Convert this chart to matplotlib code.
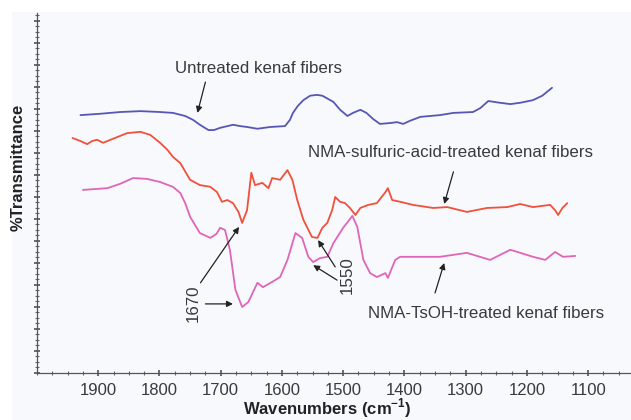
import matplotlib
matplotlib.use('Agg')
import matplotlib.pyplot as plt
from matplotlib.patches import Rectangle
from matplotlib.ticker import MultipleLocator, FixedLocator, NullFormatter

plt.rcParams['font.family'] = ['Liberation Sans', 'DejaVu Sans']
plt.rcParams['mathtext.fontset'] = 'custom'
plt.rcParams['mathtext.rm'] = 'Liberation Sans'
plt.rcParams['mathtext.bf'] = 'Liberation Sans:bold'

# FTIR spectra, values (arbitrary %T scale)
untreated_wn = [1929, 1897, 1864, 1831, 1799, 1778, 1758, 1745, 1734, 1720, 1711, 1701,
                1689, 1680, 1668, 1657, 1640, 1619, 1595, 1587, 1582, 1574, 1565, 1554,
                1543, 1534, 1525, 1516, 1505, 1493, 1484, 1472, 1462, 1451, 1440, 1423,
                1412, 1402, 1391, 1374, 1342, 1320, 1288, 1276, 1263, 1244, 1227, 1211,
                1190, 1175, 1159]
untreated_t = [58.6, 58.9, 59.3, 59.5, 59.3, 59.1, 58.4, 57.5, 56.4, 55.2, 55.2, 55.7,
               56.1, 56.4, 56.1, 55.9, 55.5, 55.9, 56.1, 57.5, 59.1, 60.7, 62.0, 63.0,
               63.2, 63.0, 62.3, 61.6, 59.8, 58.4, 59.1, 59.8, 59.1, 57.7, 56.6, 56.8,
               57.0, 56.6, 57.3, 58.2, 58.6, 59.1, 59.3, 60.2, 61.8, 61.4, 61.1, 61.4,
               62.0, 63.0, 64.8]

sulfuric_wn = [1942, 1929, 1918, 1910, 1902, 1892, 1880, 1869, 1853, 1831, 1815, 1799,
               1787, 1778, 1766, 1750, 1734, 1717, 1706, 1698, 1689, 1680, 1671, 1665,
               1657, 1650, 1644, 1632, 1622, 1616, 1603, 1591, 1583, 1575, 1565, 1551,
               1542, 1534, 1526, 1518, 1513, 1505, 1497, 1489, 1480, 1472, 1459, 1445,
               1431, 1427, 1420, 1407, 1386, 1353, 1330, 1298, 1265, 1232, 1211, 1190,
               1162, 1154, 1149, 1142, 1134]
sulfuric_t = [53.4, 52.7, 52.0, 52.7, 53.0, 52.3, 53.0, 53.6, 54.5, 54.8, 54.1, 52.3,
              50.7, 49.1, 47.7, 43.9, 42.7, 42.3, 41.1, 38.9, 39.3, 38.6, 36.6, 34.1,
              37.0, 45.5, 42.7, 43.2, 42.0, 44.3, 43.9, 46.1, 43.9, 39.3, 34.8, 30.9,
              30.7, 33.0, 34.1, 37.0, 40.0, 38.9, 38.6, 37.5, 35.9, 37.5, 38.2, 38.6,
              41.1, 42.0, 39.3, 38.9, 38.2, 37.5, 37.7, 36.6, 37.5, 37.7, 38.4, 37.7,
              38.2, 37.0, 35.9, 37.5, 38.6]

tsoh_wn = [1925, 1905, 1885, 1864, 1843, 1820, 1799, 1778, 1766, 1758, 1750, 1734,
           1717, 1707, 1701, 1693, 1685, 1676, 1665, 1655, 1640, 1631, 1616, 1603,
           1591, 1578, 1567, 1557, 1549, 1538, 1526, 1516, 1500, 1485, 1477, 1467,
           1456, 1445, 1431, 1427, 1415, 1407, 1379, 1342, 1298, 1260, 1227, 1190,
           1170, 1154, 1141, 1121]
tsoh_t = [41.6, 41.8, 42.0, 43.0, 44.3, 44.1, 43.4, 42.3, 40.9, 38.6, 35.5, 31.8,
          30.7, 31.6, 33.0, 32.5, 28.0, 18.9, 15.0, 16.1, 20.5, 19.5, 20.7, 21.8,
          25.7, 31.8, 30.7, 26.4, 25.2, 26.1, 26.4, 29.5, 33.0, 35.7, 33.2, 25.7,
          22.7, 21.8, 22.7, 21.6, 25.7, 26.4, 26.4, 26.4, 27.3, 25.7, 28.0, 26.4,
          25.7, 27.5, 26.4, 26.6]

x_ticks = [1900, 1800, 1700, 1600, 1500, 1400, 1300, 1200, 1100]

fig = plt.figure(figsize=(6.31, 4.2), dpi=100)
fig.patch.set_facecolor('white')
# light panel behind the plot, as in the scanned figure
fig.patches.append(Rectangle((12 / 631, 0), 1, 1 - 12 / 420, transform=fig.transFigure,
                             facecolor='#f7f9fc', edgecolor='none', zorder=-10))

ax = fig.add_axes([37 / 631, 47 / 420, 594 / 631, 360 / 420])
ax.set_facecolor('none')

line_kw = dict(lw=1.3, solid_joinstyle='round', solid_capstyle='round')
ax.plot(untreated_wn, untreated_t, color='#5656b4', **line_kw)
ax.plot(sulfuric_wn, sulfuric_t, color='#f0503c', **line_kw)
ax.plot(tsoh_wn, tsoh_t, color='#e065b8', **line_kw)

ax.set_xlim(2000, 1030)
ax.set_ylim(0, 81.8)

ax.xaxis.set_major_locator(FixedLocator(x_ticks))
ax.xaxis.set_minor_locator(MultipleLocator(25))
ax.yaxis.set_major_locator(MultipleLocator(5))
ax.yaxis.set_minor_locator(MultipleLocator(1.25))
ax.yaxis.set_major_formatter(NullFormatter())
ax.tick_params(axis='both', which='major', direction='inout', length=4, width=1.1,
               color='#444444')
ax.tick_params(axis='both', which='minor', direction='inout', length=2.5, width=0.8,
               color='#666666')
ax.tick_params(axis='x', labelsize=12, labelcolor='#3a3a3a', pad=5)

for side in ['top', 'right']:
    ax.spines[side].set_visible(False)
for side in ['left', 'bottom']:
    ax.spines[side].set_color('#555555')
    ax.spines[side].set_linewidth(0.9)

fig.text(327 / 631, 1 - 408 / 420, r'Wavenumbers (cm$^{\mathbf{-1}}$)', ha='center',
         va='center', fontsize=12, fontweight='bold', color='#222222')
fig.text(18 / 631, 1 - 167 / 420, '%Transmittance', rotation=90, ha='center',
         va='center', fontsize=12, fontweight='bold', color='#222222')

arrow = dict(arrowstyle='-|>', color='#222222', lw=0.9, mutation_scale=9,
             shrinkA=0, shrinkB=0)
label_kw = dict(fontsize=12.2, color='#3a3a3a', ha='center', va='center')

ax.text(1639, 69.1, 'Untreated kenaf fibers', **label_kw)
ax.annotate('', xy=(1738, 59.1), xytext=(1725, 66.1), arrowprops=arrow)

ax.text(1324, 50.0, 'NMA-sulfuric-acid-treated kenaf fibers', **label_kw)
ax.annotate('', xy=(1335, 38.4), xytext=(1320, 45.7), arrowprops=arrow)

ax.text(1266, 13.6, 'NMA-TsOH-treated kenaf fibers', **label_kw)
ax.annotate('', xy=(1335, 25.0), xytext=(1350, 18.2), arrowprops=arrow)

ax.text(1745, 15.9, '1670', rotation=90, **label_kw)
ax.annotate('', xy=(1670, 33.2), xytext=(1733, 20.5), arrowprops=arrow)
ax.annotate('', xy=(1680, 15.7), xytext=(1725, 15.7), arrowprops=arrow)

ax.text(1493, 22.3, '1550', rotation=90, **label_kw)
ax.annotate('', xy=(1541, 30.2), xytext=(1513, 24.1), arrowprops=arrow)
ax.annotate('', xy=(1549, 24.5), xytext=(1510, 21.1), arrowprops=arrow)

fig.savefig('out.png', dpi=100, facecolor=fig.get_facecolor())
